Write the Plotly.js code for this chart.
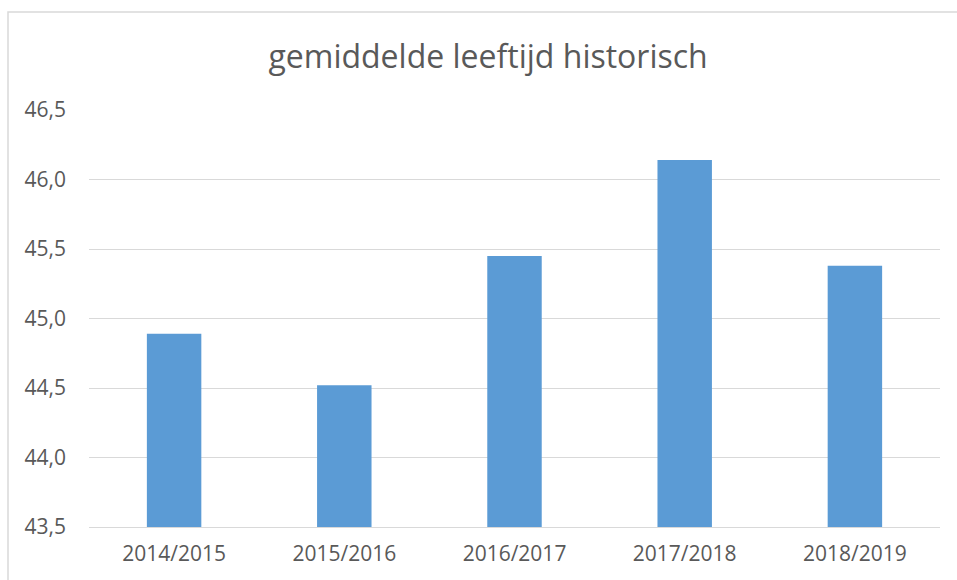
<!DOCTYPE html>
<html>
<head>
<meta charset="utf-8">
<script src="https://cdn.plot.ly/plotly-3.0.1.min.js"></script>
<style>html,body{margin:0;padding:0;background:#fff;}#chart{width:957px;height:580px;}</style>
</head>
<body>
<div id="chart"></div>
<script>
const seizoenen = ["2014/2015", "2015/2016", "2016/2017", "2017/2018", "2018/2019"];
const gemiddeldeLeeftijd = [44.89, 44.52, 45.45, 46.14, 45.38];
const yTicks = [43.5, 44.0, 44.5, 45.0, 45.5, 46.0, 46.5];
const titel = "gemiddelde leeftijd historisch";

const L = 89, R = 17, T = 110, B = 53, W = 957, H = 580;
const pw = W - L - R, ph = H - T - B;

Plotly.newPlot('chart', [{
  type: 'bar',
  x: seizoenen,
  y: gemiddeldeLeeftijd,
  marker: {color: '#5B9BD5', line: {width: 0}},
  hoverinfo: 'x+y'
}], {
  width: W, height: H,
  margin: {l: L, r: R, t: T, b: B, pad: 0},
  paper_bgcolor: '#ffffff',
  plot_bgcolor: '#ffffff',
  separators: ',.',
  bargap: 0.68,
  showlegend: false,
  font: {family: 'Open Sans, sans-serif', color: '#595959'},
  title: {
    text: titel,
    font: {size: 32, color: '#595959', family: 'Open Sans, sans-serif'},
    x: 0.51, xanchor: 'center',
    y: 1 - 57 / H, yanchor: 'middle'
  },
  xaxis: {
    type: 'category',
    showgrid: false,
    zeroline: false,
    showline: true,
    linecolor: '#D9D9D9',
    linewidth: 1,
    ticks: '',
    ticklabelstandoff: 8,
    tickfont: {size: 21, color: '#595959'},
    automargin: false
  },
  yaxis: {
    range: [43.5, 46.5],
    tickvals: yTicks,
    tickformat: '.1f',
    showgrid: true,
    gridcolor: '#D9D9D9',
    gridwidth: 1,
    zeroline: false,
    showline: false,
    ticks: '',
    ticklabelstandoff: 22,
    tickfont: {size: 21, color: '#595959'},
    automargin: false
  },
  shapes: [{
    type: 'path',
    xref: 'paper', yref: 'paper',
    path: 'M ' + ((8 - L) / pw) + ' ' + (-(H + 5 - T - ph) / ph) +
          ' L ' + ((8 - L) / pw) + ' ' + (1 + (T - 12) / ph) +
          ' L ' + ((W + 5 - L) / pw) + ' ' + (1 + (T - 12) / ph),
    line: {color: '#D9D9D9', width: 1.5}
  }]
}, {displayModeBar: false, staticPlot: true});
</script>
</body>
</html>
